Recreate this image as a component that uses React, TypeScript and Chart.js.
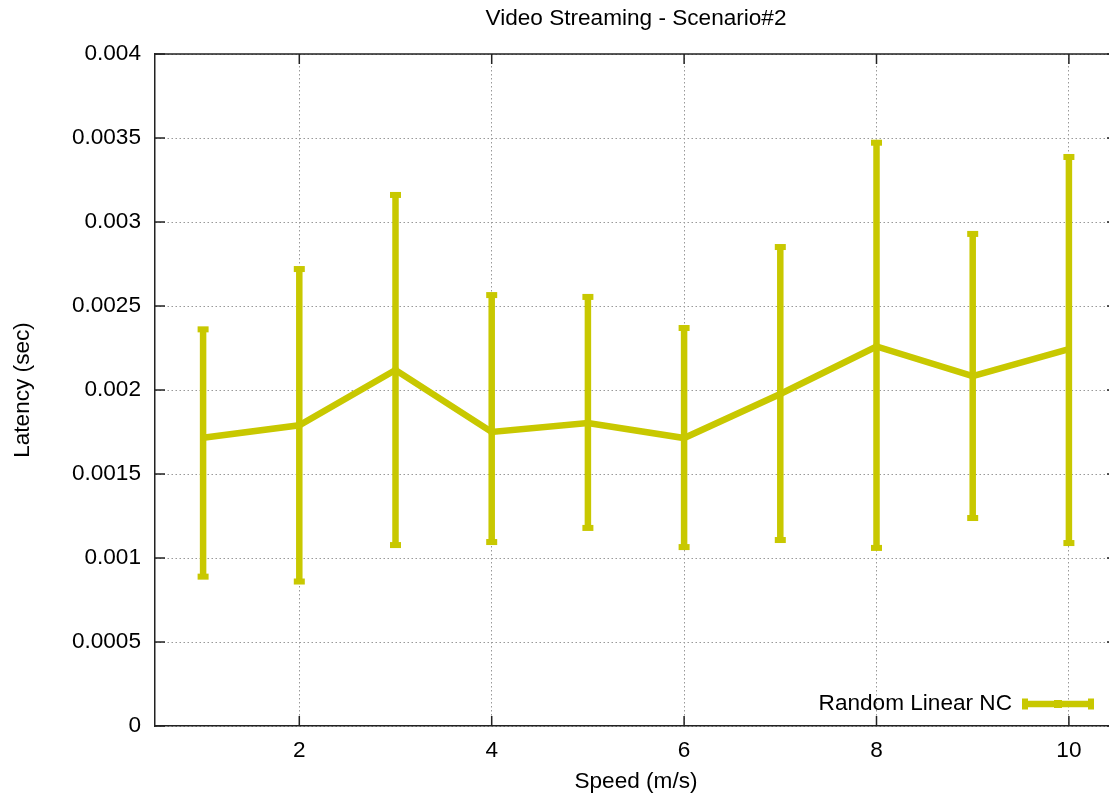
import React, { useEffect, useRef } from "react";
import { Chart, registerables } from "chart.js";

Chart.register(...registerables);

const chartTitle = "Video Streaming - Scenario#2";
const xAxisTitle = "Speed (m/s)";
const yAxisTitle = "Latency (sec)";
const seriesLabel = "Random Linear NC";

const speeds = [1, 2, 3, 4, 5, 6, 7, 8, 9, 10];
const latencyMean = [0.001716, 0.00179, 0.002119, 0.00175, 0.001804, 0.001714, 0.001976, 0.002259, 0.002083, 0.002244];
const latencyLow = [0.000889, 0.00086, 0.001077, 0.001095, 0.001179, 0.001065, 0.001107, 0.00106, 0.001238, 0.001089];
const latencyHigh = [0.002361, 0.00272, 0.003161, 0.002565, 0.002554, 0.002369, 0.002851, 0.003472, 0.002929, 0.003387];

const xTicks = [2, 4, 6, 8, 10];
const xTickLabels = ["2", "4", "6", "8", "10"];
const yTicks = [0, 0.0005, 0.001, 0.0015, 0.002, 0.0025, 0.003, 0.0035, 0.004];
const yTickLabels = ["0", "0.0005", "0.001", "0.0015", "0.002", "0.0025", "0.003", "0.0035", "0.004"];

const COLOR = "rgb(200,200,0)";
const FONT = "'Liberation Sans', Arial, Helvetica, sans-serif";
const FONT_SIZE = 22.6;
const CANVAS_W = 1125;
const CANVAS_H = 796;

const decorPlugin = {
  id: "decor",
  beforeDatasetsDraw(chart: any) {
    const { ctx, scales } = chart;
    const x = scales.x;
    const y = scales.y;
    ctx.save();
    ctx.strokeStyle = COLOR;
    ctx.fillStyle = COLOR;
    ctx.lineWidth = 6.5;
    speeds.forEach((s, i) => {
      const px = x.getPixelForValue(s);
      const p1 = y.getPixelForValue(latencyLow[i]);
      const p2 = y.getPixelForValue(latencyHigh[i]);
      ctx.beginPath();
      ctx.moveTo(px, p1);
      ctx.lineTo(px, p2);
      ctx.stroke();
      ctx.fillRect(px - 5.5, p1 - 3, 11, 6);
      ctx.fillRect(px - 5.5, p2 - 3, 11, 6);
    });
    ctx.restore();
  },
  afterDraw(chart: any) {
    const { ctx, chartArea, scales } = chart;
    const x = scales.x;
    const y = scales.y;
    const { left, right, top, bottom } = chartArea;
    ctx.save();
    ctx.strokeStyle = "#222";
    ctx.lineWidth = 1.5;
    ctx.beginPath();
    ctx.moveTo(left, top);
    ctx.lineTo(right, top);
    ctx.moveTo(right, top);
    ctx.lineTo(right, bottom);
    ctx.stroke();
    ctx.beginPath();
    yTicks.forEach((v) => {
      const py = y.getPixelForValue(v);
      ctx.moveTo(left, py);
      ctx.lineTo(left + 10, py);
      ctx.moveTo(right, py);
      ctx.lineTo(right - 10, py);
    });
    xTicks.forEach((v) => {
      const px = x.getPixelForValue(v);
      ctx.moveTo(px, bottom);
      ctx.lineTo(px, bottom - 10);
      ctx.moveTo(px, top);
      ctx.lineTo(px, top + 10);
    });
    ctx.stroke();

    ctx.fillStyle = "#000";
    ctx.font = `${FONT_SIZE}px ${FONT}`;
    ctx.textAlign = "center";
    ctx.textBaseline = "middle";
    const cx = (left + right) / 2;
    ctx.fillText(chartTitle, cx, 19);
    ctx.fillText(xAxisTitle, cx, 782);
    ctx.save();
    ctx.translate(23, (top + bottom) / 2);
    ctx.rotate(-Math.PI / 2);
    ctx.fillText(yAxisTitle, 0, 0);
    ctx.restore();

    const ly = 704;
    ctx.textAlign = "right";
    ctx.fillText(chart.data.datasets[0].label, 1012, ly);
    ctx.strokeStyle = COLOR;
    ctx.fillStyle = COLOR;
    ctx.lineWidth = 6.5;
    ctx.beginPath();
    ctx.moveTo(1024, ly);
    ctx.lineTo(1092, ly);
    ctx.stroke();
    ctx.fillRect(1022, ly - 5.5, 6, 11);
    ctx.fillRect(1088, ly - 5.5, 6, 11);
    ctx.fillRect(1054, ly - 4, 8, 8);
    ctx.restore();
  },
};

export default function App() {
  const ref = useRef<HTMLCanvasElement | null>(null);
  useEffect(() => {
    if (!ref.current) return;
    const chart = new Chart(ref.current, {
      type: "line",
      data: {
        datasets: [
          {
            label: seriesLabel,
            data: speeds.map((s, i) => ({ x: s, y: latencyMean[i] })),
            borderColor: COLOR,
            backgroundColor: COLOR,
            borderWidth: 6.5,
            pointStyle: "rect",
            pointRadius: 4,
            pointBackgroundColor: COLOR,
            pointBorderWidth: 0,
            tension: 0,
            fill: false,
          },
        ],
      },
      options: {
        animation: false,
        responsive: false,
        devicePixelRatio: 1,
        layout: { padding: { top: 54, left: 0, right: CANVAS_W - 1117, bottom: 0 } },
        plugins: {
          legend: { display: false },
          title: { display: false },
          tooltip: { enabled: false },
        },
        scales: {
          x: {
            type: "linear",
            min: 0.5,
            max: 10.5,
            afterBuildTicks: (scale: any) => {
              scale.ticks = xTicks.map((v) => ({ value: v }));
            },
            afterFit: (scale: any) => {
              scale.height = 70;
            },
            ticks: {
              color: "#000",
              font: { family: FONT, size: FONT_SIZE },
              padding: 11,
              maxRotation: 0,
              autoSkip: false,
              callback: (_v: any, i: number) => xTickLabels[i],
            },
            grid: { color: "#999", lineWidth: 1, drawTicks: false },
            border: { display: true, color: "#222", width: 1.5, dash: [1.5, 2.5] },
          },
          y: {
            type: "linear",
            min: 0,
            max: 0.004,
            afterBuildTicks: (scale: any) => {
              scale.ticks = yTicks.map((v) => ({ value: v }));
            },
            afterFit: (scale: any) => {
              scale.width = 155;
            },
            ticks: {
              color: "#000",
              font: { family: FONT, size: FONT_SIZE },
              padding: 14,
              autoSkip: false,
              callback: (_v: any, i: number) => yTickLabels[i],
            },
            grid: { color: "#999", lineWidth: 1, drawTicks: false },
            border: { display: true, color: "#222", width: 1.5, dash: [1.5, 2.5] },
          },
        },
      },
      plugins: [decorPlugin],
    });
    return () => chart.destroy();
  }, []);

  return (
    <div
      style={{
        position: "fixed",
        left: 0,
        top: 0,
        width: 1109,
        height: 796,
        overflow: "hidden",
        background: "#fff",
      }}
    >
      <canvas
        ref={ref}
        width={CANVAS_W}
        height={CANVAS_H}
        style={{ display: "block", width: CANVAS_W, height: CANVAS_H }}
      />
    </div>
  );
}
